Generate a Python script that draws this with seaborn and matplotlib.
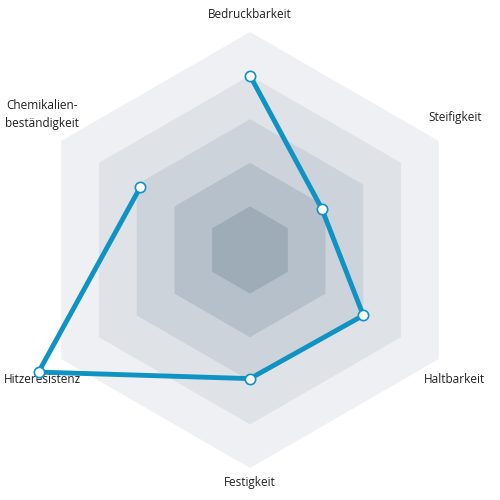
import numpy as np
import pandas as pd
import seaborn as sns
from matplotlib import pyplot as plt

categories = ['Bedruckbarkeit', 'Steifigkeit', 'Haltbarkeit', 'Festigkeit',
              'Hitzeresistenz', 'Chemikalien-\nbeständigkeit']
values = [4.0, 1.9, 3.0, 2.95, 5.6, 2.9]
levels = [5, 4, 3, 2, 1]
level_colors = ['#eef0f3', '#dfe3e8', '#cdd3da', '#b6c0ca', '#9eacb8']

sns.set_theme(style='white')
plt.rcParams['font.family'] = ['Open Sans', 'DejaVu Sans']

angles = np.deg2rad([90, 30, -30, -90, -150, 150])

fig = plt.figure(figsize=(5, 5), dpi=100)
ax = fig.add_axes([0, 0, 1, 1])
lim = 250 / 43.6

# Background hexagons
for lvl, col in zip(levels, level_colors):
    ax.fill(lvl * np.cos(angles), lvl * np.sin(angles), color=col, lw=0, zorder=1)

# Data line
closed_v = values + values[:1]
closed_a = np.append(angles, angles[0])
df = pd.DataFrame({
    'x': [v * np.cos(a) for v, a in zip(closed_v, closed_a)],
    'y': [v * np.sin(a) for v, a in zip(closed_v, closed_a)],
})
sns.lineplot(data=df, x='x', y='y', sort=False, color='#0e93c4', lw=3.5,
             ax=ax, zorder=3)
ax.scatter(df['x'][:-1], df['y'][:-1], s=55, facecolor='white',
           edgecolor='#0e93c4', linewidth=1.2, zorder=4)
ax.set_xlim(-lim, lim)
ax.set_ylim(-lim, lim)
ax.axis('off')

# Labels
label_pos = [(0, 5.39), (4.70, 3.03), (4.70, -2.98), (0, -5.34),
             (-4.77, -2.98), (-4.77, 3.10)]
for name, (x, y) in zip(categories, label_pos):
    ax.text(x, y, name, ha='center', va='center', fontsize=8.5,
            color='#222222', linespacing=1.5)

plt.savefig('out.png')
plt.close()
